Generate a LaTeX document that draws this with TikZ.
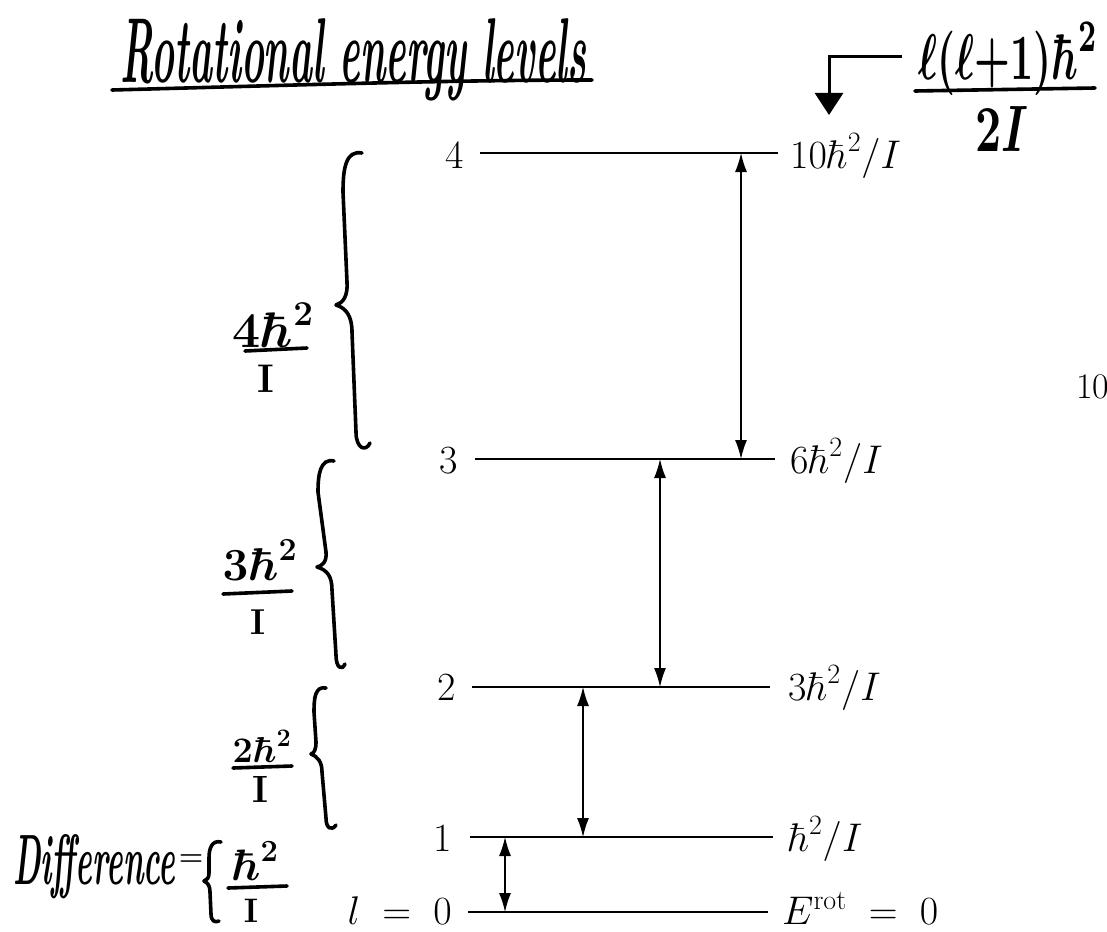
\RequirePackage{fix-cm}
\documentclass[tikz,border=0pt]{standalone}
\usepackage{amsmath}
\usepackage{graphicx}
\usetikzlibrary{arrows.meta}
\newcommand{\fsz}[1]{\fontsize{#1}{#1}\selectfont}
\newcommand{\bm}[1]{{\boldmath#1}}
\begin{document}
\begin{tikzpicture}[x=1pt,y=-1pt,
  levelline/.style={line width=2.6pt},
  trans/.style={line width=1.3pt,{Latex[length=19pt,width=12pt]}-{Latex[length=19pt,width=12pt]}},
  print/.style={inner sep=0pt,font=\fsz{40}},
  hand/.style={line width=3.6pt,line cap=round,line join=round},
  handtxt/.style={inner sep=0pt},
]
\useasboundingbox (0,0) rectangle (1107,931);
\clip (0,0) rectangle (1107,931);
\fill[white] (0,0) rectangle (1107,931);

% ---------- title ----------
\node[handtxt,anchor=base west] (title) at (120,82)
  {\resizebox{466pt}{64pt}{\bfseries\itshape Rotational energy levels}};
\draw[hand] (112,90) .. controls (300,85) and (450,80) .. (592,80);

% ---------- energy levels ----------
\foreach \n/\xa/\xb/\y in {0/468/768/912, 1/470/773/837, 2/472/770/687, 3/475/775/459, 4/480/778/153} {
  \coordinate (L\n a) at (\xa,\y);
  \coordinate (L\n b) at (\xb,\y);
  \draw[levelline] (L\n a) -- (L\n b);
}

% level numbers
\node[print,anchor=base east] (n4) at (464,168) {4};
\node[print,anchor=base east] (n3) at (458,473) {3};
\node[print,anchor=base east] (n2) at (456,700) {2};
\node[print,anchor=base east] (n1) at (452,851) {1};
\node[print,anchor=base east] (n0) at (452,924) {$l \;=\; 0$};

% energies
\node[print,anchor=base west] (e4) at (790,168) {$10\hbar^{2}/I$};
\node[print,anchor=base west] (e3) at (790,473) {$6\hbar^{2}/I$};
\node[print,anchor=base west] (e2) at (788,700) {$3\hbar^{2}/I$};
\node[print,anchor=base west] (e1) at (788,851) {$\hbar^{2}/I$};
\node[print,anchor=base west] (e0) at (782,924) {$E^{\mathrm{rot}} \;=\; 0$};

% transitions
\coordinate (a01t) at (505,837); \coordinate (a01b) at (505,912);
\coordinate (a12t) at (583,687); \coordinate (a12b) at (583,837);
\coordinate (a23t) at (660,459); \coordinate (a23b) at (660,687);
\coordinate (a34t) at (741,153); \coordinate (a34b) at (741,459);
\draw[trans] (a01t) -- (a01b);
\draw[trans] (a12t) -- (a12b);
\draw[trans] (a23t) -- (a23b);
\draw[trans] (a34t) -- (a34b);

% ---------- handwritten braces ----------
\draw[hand] (362,153) .. controls (346,150) and (343,168) .. (343,192)
  -- (347,282) .. controls (348,296) and (343,303) .. (336,305)
  .. controls (346,308) and (352,316) .. (352,332)
  -- (356,432) .. controls (356,449) and (366,452) .. (370,443);
\draw[hand] (334,461) .. controls (320,458) and (318,475) .. (318,492)
  -- (326,552) .. controls (327,562) and (322,566) .. (317,567)
  .. controls (327,570) and (332,576) .. (332,590)
  -- (336,655) .. controls (336,668) and (342,671) .. (345,664);
\draw[hand] (326,688) .. controls (315,686) and (314,698) .. (314,712)
  -- (316,742) .. controls (316,750) and (314,753) .. (311,754)
  .. controls (318,757) and (322,762) .. (322,772)
  -- (326,818) .. controls (326,829) and (332,831) .. (336,825);

% brace labels
\node[handtxt,anchor=base] (f4n) at (273,347) {\fsz{50}\bm{$4\hbar^{2}$}};
\draw[hand] (245,351) -- (307,348);
\node[handtxt,anchor=base] (f4d) at (266,392) {\fsz{40}\bfseries I};

\node[handtxt,anchor=base] (f3n) at (260,580) {\fsz{46}\bm{$3\hbar^{2}$}};
\draw[hand] (223,594) -- (292,591);
\node[handtxt,anchor=base] (f3d) at (258,634) {\fsz{36}\bfseries I};

\node[handtxt,anchor=base] (f2n) at (262,762) {\fsz{36}\bm{$2\hbar^{2}$}};
\draw[hand] (233,768) -- (292,766);
\node[handtxt,anchor=base] (f2d) at (260,802) {\fsz{38}\bfseries I};

% difference
\node[handtxt,anchor=base west] (diff) at (13,884)
  {\resizebox{162pt}{50pt}{\bfseries\itshape Difference}};
\node[handtxt] (eq) at (191,860) {\fsz{28}\bfseries =};
\draw[hand] (221,842) .. controls (212,840) and (209,848) .. (209,858)
  -- (209,873) .. controls (209,878) and (207,880) .. (204,881)
  .. controls (208,883) and (210,886) .. (210,892)
  -- (211,914) .. controls (211,921) and (215,923) .. (219,921);
\node[handtxt,anchor=base] (f1n) at (255,880) {\fsz{44}\bm{$\hbar^{2}$}};
\draw[hand] (228,888) -- (287,886);
\node[handtxt,anchor=base] (f1d) at (251,922) {\fsz{34}\bfseries I};

% ---------- formula top right ----------
\node[handtxt,anchor=base west] (fnum) at (918,80)
  {\resizebox{180pt}{58pt}{\bm{$\ell(\ell{+}1)\hbar^{2}$}}};
\draw[hand] (915,91) -- (1095,88);
\node[handtxt,anchor=base west] (fden) at (975,151)
  {\resizebox{53pt}{45pt}{\bm{$2I$}}};
\coordinate (elbow0) at (902,57);
\coordinate (elbow1) at (829,115);
\draw[line width=3pt,-{Triangle[length=22pt,width=28pt]}] (elbow0) -| (elbow1);

% cut-off number at right edge
\node[handtxt,anchor=base west,font=\fsz{36}] (cut10) at (1076,398) {10};
\end{tikzpicture}
\end{document}
